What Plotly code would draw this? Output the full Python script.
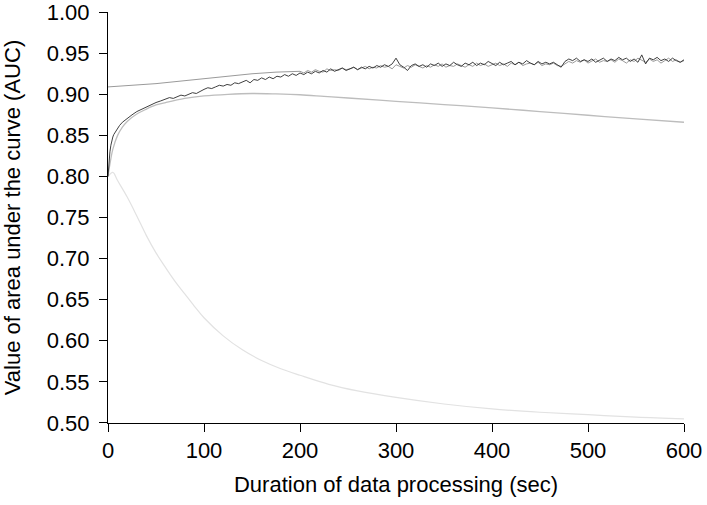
import plotly.graph_objects as go

# ---- data ----
# lightest grey: decaying curve
low_x = [0, 5, 10, 20, 30, 40, 50, 60, 70, 80, 90, 100, 120, 140, 160, 180, 200,
         230, 260, 300, 350, 400, 450, 500, 550, 600]
low_y = [0.800, 0.805, 0.795, 0.775, 0.752, 0.728, 0.707, 0.689, 0.672, 0.657, 0.642,
         0.628, 0.606, 0.589, 0.576, 0.566, 0.558, 0.547, 0.539, 0.531, 0.523, 0.517,
         0.513, 0.510, 0.507, 0.505]

# mid grey: rises to a peak, then slowly declines
mid_x = [0, 2, 5, 10, 15, 20, 30, 40, 50, 60, 80, 100, 125, 150, 175, 200, 225, 250,
         300, 350, 400, 450, 500, 550, 600]
mid_y = [0.800, 0.815, 0.833, 0.850, 0.860, 0.867, 0.876, 0.882, 0.887, 0.890, 0.895,
         0.898, 0.900, 0.901, 0.9005, 0.8995, 0.8975, 0.8955, 0.8915, 0.8875, 0.8835,
         0.879, 0.8745, 0.870, 0.866]

# darker grey: starts high, rises slowly, then noisy and merged with black
top_x_smooth = [0, 25, 50, 75, 100, 125, 150, 175, 190]
top_y_smooth = [0.909, 0.911, 0.913, 0.916, 0.919, 0.922, 0.925, 0.927, 0.928]
top_x_noisy = list(range(200, 601, 4))
top_y_noisy = [
    0.928, 0.926, 0.929, 0.927, 0.930, 0.928, 0.927, 0.931, 0.929, 0.930,
    0.929, 0.932, 0.930, 0.931, 0.933, 0.930, 0.932, 0.934, 0.931, 0.933,
    0.932, 0.935, 0.933, 0.934, 0.931, 0.936, 0.934, 0.932, 0.935, 0.933,
    0.936, 0.934, 0.932, 0.935, 0.933, 0.936, 0.934, 0.937, 0.933, 0.935,
    0.934, 0.937, 0.935, 0.933, 0.936, 0.934, 0.938, 0.935, 0.937, 0.934,
    0.936, 0.938, 0.935, 0.937, 0.934, 0.938, 0.936, 0.939, 0.935, 0.937,
    0.938, 0.936, 0.939, 0.935, 0.937, 0.936, 0.938, 0.935, 0.934, 0.937,
    0.940, 0.938, 0.941, 0.939, 0.942, 0.938, 0.940, 0.943, 0.939, 0.941,
    0.940, 0.942, 0.939, 0.943, 0.941, 0.938, 0.942, 0.940, 0.944, 0.941,
    0.939, 0.943, 0.940, 0.942, 0.938, 0.941, 0.944, 0.940, 0.942, 0.939,
    0.941,
]

# black noisy curve
blk_x_early = [0, 1, 2, 3, 4, 5, 6, 8, 10, 12, 15, 18, 21, 25, 30, 35, 40, 45, 50, 55]
blk_y_early = [0.800, 0.818, 0.830, 0.838, 0.844, 0.848, 0.851, 0.855, 0.859, 0.862,
               0.866, 0.869, 0.872, 0.875, 0.879, 0.882, 0.885, 0.887, 0.890, 0.892]
blk_x_late = list(range(60, 601, 4))
blk_y_late = [
    0.894, 0.896, 0.895, 0.897, 0.899, 0.898, 0.900, 0.902, 0.901, 0.904,
    0.906, 0.908, 0.907, 0.909, 0.911, 0.910, 0.912, 0.911, 0.914, 0.913,
    0.915, 0.917, 0.914, 0.918, 0.917, 0.920, 0.918, 0.921, 0.919, 0.922,
    0.921, 0.924, 0.922, 0.925, 0.923, 0.926, 0.924, 0.927, 0.925, 0.928,
    0.926, 0.929, 0.927, 0.931, 0.928, 0.930, 0.932, 0.929, 0.931, 0.933,
    0.930, 0.933, 0.931, 0.934, 0.932, 0.935, 0.933, 0.936, 0.934, 0.937,
    0.944, 0.936, 0.933, 0.929, 0.935, 0.937, 0.934, 0.936, 0.933, 0.937,
    0.935, 0.938, 0.934, 0.937, 0.935, 0.939, 0.936, 0.934, 0.938, 0.936,
    0.939, 0.935, 0.938, 0.936, 0.940, 0.937, 0.935, 0.939, 0.936, 0.938,
    0.940, 0.936, 0.939, 0.937, 0.941, 0.938, 0.936, 0.940, 0.937, 0.939,
    0.937, 0.939, 0.936, 0.933, 0.940, 0.943, 0.941, 0.944, 0.940, 0.942,
    0.940, 0.943, 0.939, 0.942, 0.944, 0.940, 0.943, 0.941, 0.945, 0.942,
    0.944, 0.940, 0.943, 0.939, 0.948, 0.937, 0.944, 0.942, 0.945, 0.941,
    0.943, 0.940, 0.944, 0.941, 0.939, 0.942,
]

x_ticks = [0, 100, 200, 300, 400, 500, 600]
y_ticks = [0.50, 0.55, 0.60, 0.65, 0.70, 0.75, 0.80, 0.85, 0.90, 0.95, 1.00]

FONT = "Liberation Sans, Arial, sans-serif"

fig = go.Figure()
fig.add_trace(go.Scatter(x=low_x, y=low_y, mode="lines",
                         line=dict(color="#e2e2e2", width=1.2, shape="spline")))
fig.add_trace(go.Scatter(x=mid_x, y=mid_y, mode="lines",
                         line=dict(color="#bdbdbd", width=1.3, shape="spline")))
fig.add_trace(go.Scatter(x=top_x_smooth + top_x_noisy, y=top_y_smooth + top_y_noisy,
                         mode="lines", line=dict(color="#9a9a9a", width=1)))
fig.add_trace(go.Scatter(x=blk_x_early + blk_x_late, y=blk_y_early + blk_y_late,
                         mode="lines", line=dict(color="#2a2a2a", width=0.9)))

fig.update_layout(
    width=707, height=505,
    margin=dict(l=108, r=23, t=12, b=82, autoexpand=False),
    paper_bgcolor="white", plot_bgcolor="white",
    showlegend=False,
    font=dict(family=FONT, size=22, color="black"),
    xaxis=dict(
        range=[0, 600], tickvals=x_ticks, ticktext=[str(v) for v in x_ticks],
        showgrid=False, zeroline=False, showline=True, linecolor="black", linewidth=1,
        ticks="outside", ticklen=8, tickwidth=1, tickcolor="black",
        tickfont=dict(size=22), automargin=False, ticklabeloverflow="allow",
        title=dict(text="Duration of data processing (sec)", font=dict(size=22), standoff=14),
    ),
    yaxis=dict(
        range=[0.4999, 1.0002], tickvals=y_ticks, ticktext=[f"{v:.2f}" for v in y_ticks],
        showgrid=False, zeroline=False, showline=True, linecolor="black", linewidth=1,
        ticks="outside", ticklen=8, tickwidth=1, tickcolor="black",
        tickfont=dict(size=22), automargin=False, ticklabelstandoff=5,
        ticklabeloverflow="allow",
        title=dict(text="Value of area under the curve (AUC)", font=dict(size=22), standoff=22),
    ),
)

fig.write_html("out.html", config={"displayModeBar": False},
               post_script="document.body.style.margin='0px';")
